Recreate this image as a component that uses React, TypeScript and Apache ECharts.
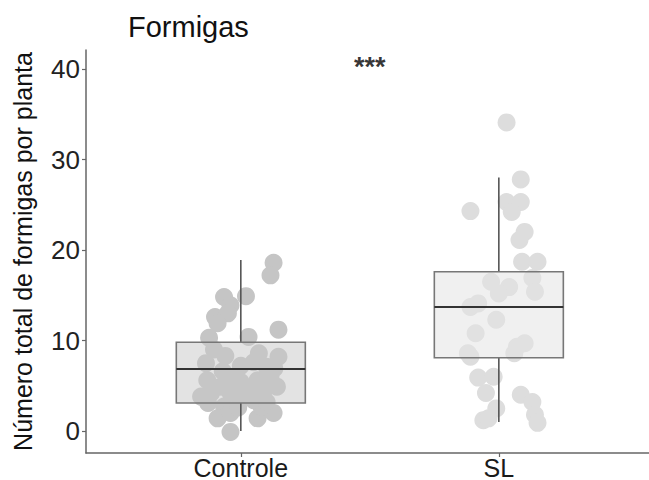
import React, { useEffect, useRef } from "react";
import * as echarts from "echarts";

// ---- data ----
const categories = ["Controle", "SL"];
const categoryPositions = [1, 2];
const yTicks = [0, 10, 20, 30, 40];

// box stats: [x, min, q1, median, q3, max]
const boxStats = [
  [1, 0, 3.1, 6.85, 9.8, 18.9],
  [2, 1, 8.1, 13.7, 17.6, 28],
];

const controleX = [
  1.127, 1.115, 0.935, 1.02, 0.96, 0.9, 0.95, 1.146, 0.877, 1.03, 0.896, 1.146,
  0.865, 1.05, 1.1, 0.96, 1.0, 1.065, 1.115, 0.923, 0.885, 0.846, 0.96, 1.027,
  1.09, 1.14, 0.873, 0.935, 0.91, 0.96, 1.065, 1.127, 0.96, 1.08, 0.93, 1.0,
  1.05, 0.99, 1.1, 0.87, 1.13, 0.94, 0.91, 1.0, 1.07,
];
const controleY = [
  18.6, 17.2, 14.8, 14.9, 13.9, 12.6, 13.0, 11.2, 10.3, 10.4, 9.0, 8.2, 7.5,
  7.6, 7.1, 6.0, 5.4, 5.6, 6.0, 4.9, 4.2, 3.8, 4.2, 4.5, 4.5, 4.9, 3.1, 2.7,
  1.4, 2.0, 1.4, 2.0, -0.1, 2.7, 6.6, 7.2, 3.4, 2.6, 3.2, 5.6, 6.9, 8.3, 11.9,
  4.0, 8.6,
];

const slX = [
  2.03, 2.085, 1.89, 2.03, 2.085, 2.05, 2.1, 2.08, 2.09, 2.15, 2.13, 2.14, 1.97,
  2.04, 2.0, 1.89, 1.92, 1.99, 1.91, 1.89, 2.1, 2.06, 1.92, 1.98, 1.95, 2.085,
  2.13, 1.99, 1.94, 2.14, 2.15, 1.88, 2.07, 1.96,
];
const slY = [
  34.1, 27.8, 24.3, 25.3, 25.3, 24.2, 22.0, 21.1, 18.7, 18.7, 16.9, 15.4, 16.5,
  15.9, 15.2, 13.7, 14.1, 12.3, 10.8, 8.2, 9.7, 8.6, 5.9, 6.0, 4.2, 4.0, 3.2,
  2.5, 1.2, 1.8, 0.9, 8.6, 9.3, 1.4,
];

const annotation = { x: 1.5, y: 40.7, text: "***" };

const FONT = "'Liberation Sans', Arial, Helvetica, sans-serif";

export default function App() {
  const ref = useRef<HTMLDivElement>(null);

  useEffect(() => {
    document.body.style.margin = "0";
    if (!ref.current) return;
    const chart = echarts.init(ref.current, undefined, { renderer: "svg" });

    const boxFills = ["rgba(200,200,200,0.5)", "rgba(228,228,228,0.55)"];
    const BOX_HALF = 0.25;

    chart.setOption({
      animation: false,
      backgroundColor: "#ffffff",
      title: {
        text: "Formigas",
        left: 123,
        top: 7,
        textStyle: {
          fontFamily: FONT,
          fontSize: 29,
          fontWeight: "normal",
          color: "#111",
        },
      },
      grid: {
        left: 86,
        right: 0,
        top: 50,
        bottom: 27,
        containLabel: false,
        outerBoundsMode: "none",
      },
      xAxis: {
        type: "value",
        min: 0.4,
        max: 2.582,
        splitLine: { show: false },
        axisLine: { show: true, onZero: false, lineStyle: { color: "#666", width: 1.5 } },
        axisTick: {
          show: true,
          customValues: categoryPositions,
          length: 4,
          lineStyle: { color: "#666", width: 1.2 },
        },
        axisLabel: {
          customValues: categoryPositions,
          formatter: (v: number) => categories[Math.round(v) - 1] ?? "",
          fontFamily: FONT,
          fontSize: 25,
          color: "#1a1a1a",
          margin: 2,
        },
      },
      yAxis: {
        type: "value",
        min: -2.43,
        max: 42.1,
        name: "Número total de formigas por planta",
        nameLocation: "middle",
        nameGap: 51,
        nameTextStyle: {
          fontFamily: FONT,
          fontSize: 25,
          color: "#111",
        },
        splitLine: { show: false },
        axisLine: { show: true, onZero: false, lineStyle: { color: "#666", width: 1.5 } },
        axisTick: {
          show: true,
          customValues: yTicks,
          length: 4,
          lineStyle: { color: "#666", width: 1.2 },
        },
        axisLabel: {
          customValues: yTicks,
          fontFamily: FONT,
          fontSize: 26,
          color: "#222",
          margin: 6,
        },
      },
      series: [
        {
          type: "scatter",
          name: "Controle",
          z: 2,
          symbolSize: 18,
          itemStyle: { color: "#c5c5c5", opacity: 1 },
          data: controleX.map((x, i) => [x, controleY[i]]),
        },
        {
          type: "scatter",
          name: "SL",
          z: 2,
          symbolSize: 18,
          itemStyle: { color: "#dddddd", opacity: 1 },
          data: slX.map((x, i) => [x, slY[i]]),
        },
        {
          type: "custom",
          z: 3,
          encode: { x: 0, y: [1, 2, 3, 4, 5] },
          data: boxStats,
          renderItem: (params: any, api: any) => {
            const x = api.value(0);
            const pLo = api.coord([x, api.value(1)]);
            const pQ1 = api.coord([x, api.value(2)]);
            const pMed = api.coord([x, api.value(3)]);
            const pQ3 = api.coord([x, api.value(4)]);
            const pHi = api.coord([x, api.value(5)]);
            const hw = api.size([BOX_HALF, 0])[0];
            const cx = pMed[0];
            return {
              type: "group",
              children: [
                {
                  type: "line",
                  shape: { x1: cx, y1: pHi[1], x2: cx, y2: pQ3[1] },
                  style: { stroke: "#555", lineWidth: 1.6 },
                },
                {
                  type: "line",
                  shape: { x1: cx, y1: pQ1[1], x2: cx, y2: pLo[1] },
                  style: { stroke: "#555", lineWidth: 1.6 },
                },
                {
                  type: "rect",
                  shape: {
                    x: cx - hw,
                    y: pQ3[1],
                    width: hw * 2,
                    height: pQ1[1] - pQ3[1],
                  },
                  style: {
                    fill: boxFills[params.dataIndex],
                    stroke: "#777",
                    lineWidth: 1.6,
                  },
                },
                {
                  type: "line",
                  shape: { x1: cx - hw, y1: pMed[1], x2: cx + hw, y2: pMed[1] },
                  style: { stroke: "#333", lineWidth: 2.2 },
                },
              ],
            };
          },
        },
        {
          type: "scatter",
          name: "annotation",
          z: 4,
          symbolSize: 0,
          silent: true,
          data: [[annotation.x, annotation.y]],
          label: {
            show: true,
            position: "inside",
            formatter: annotation.text,
            fontFamily: FONT,
            fontSize: 27,
            fontWeight: "bold",
            color: "#000",
            offset: [0, 4],
          },
        },
      ],
    });

    return () => chart.dispose();
  }, []);

  return (
    <div
      ref={ref}
      style={{ position: "absolute", left: 0, top: 0, width: 649, height: 480 }}
    />
  );
}
